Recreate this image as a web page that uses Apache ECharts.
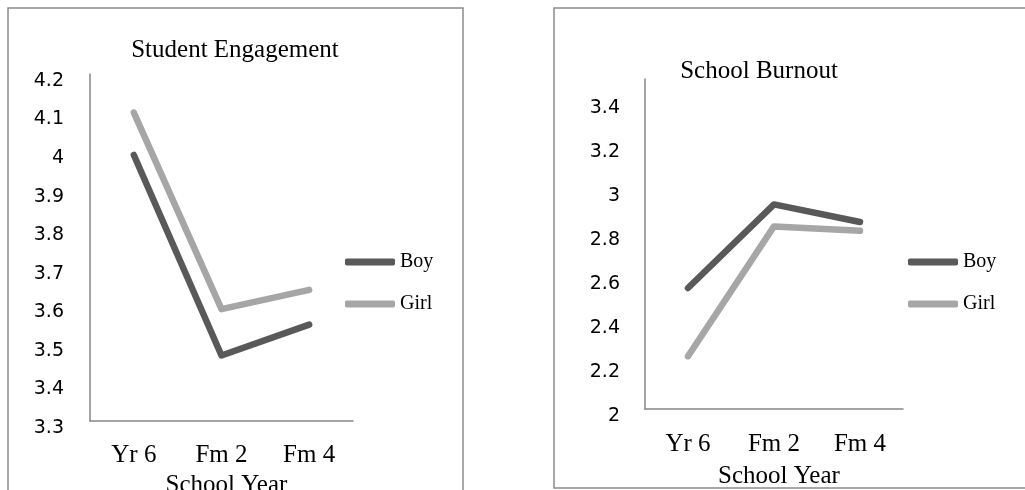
<!DOCTYPE html>
<html lang="en">
<head>
    <meta charset="UTF-8">
    <title>Student Engagement / School Burnout</title>
    <script src="https://cdn.jsdelivr.net/npm/echarts@6/dist/echarts.min.js"></script>
    <style>
        body { margin: 0; background: #fff; }
    </style>
</head>
<body>
<div id="myChart" style="width: 1025px;height: 490px;"></div>

<script>
    // data
    var categories = ['Yr 6', 'Fm 2', 'Fm 4'];
    var engagementBoy = [3.99, 3.47, 3.55];
    var engagementGirl = [4.10, 3.59, 3.64];
    var burnoutBoy = [2.55, 2.93, 2.85];
    var burnoutGirl = [2.24, 2.83, 2.81];
    var engagementTicks = [3.3, 4.2, 0.1];   // min, max, step
    var burnoutTicks = [2, 3.5, 0.2];

    var boyColor = '#595959';
    var girlColor = '#a6a6a6';
    var serif = '"Liberation Serif", "Times New Roman", serif';
    var sans = '"DejaVu Sans", sans-serif';

    var myChart = echarts.init(document.getElementById('myChart'));

    function xAxisOf(idx, margin, gap) {
        return {
            type: 'category',
            gridIndex: idx,
            data: categories,
            boundaryGap: true,
            axisLine: {lineStyle: {color: '#868686', width: 1.5}},
            axisTick: {show: false},
            axisLabel: {color: '#000', fontFamily: serif, fontSize: 25, margin: margin},
            name: 'School Year',
            nameLocation: 'middle',
            nameGap: gap,
            nameTextStyle: {color: '#000', fontFamily: serif, fontSize: 25, verticalAlign: 'top', padding: [0, 0, 0, 10]}
        };
    }

    function yAxisOf(idx, ticks, margin) {
        return {
            type: 'value',
            gridIndex: idx,
            min: ticks[0],
            max: ticks[1],
            interval: ticks[2],
            axisLine: {show: true, lineStyle: {color: '#868686', width: 1.5}},
            axisTick: {show: false},
            splitLine: {show: false},
            // labels sit a little below their tick in the original
            axisLabel: {color: '#000', fontFamily: sans, fontSize: 19, margin: margin,
                showMaxLabel: ticks === engagementTicks, verticalAlign: 'top', lineHeight: 14}
        };
    }

    function lineOf(name, idx, data, color) {
        return {
            name: name,
            type: 'line',
            xAxisIndex: idx,
            yAxisIndex: idx,
            data: data,
            symbol: 'none',
            color: color,
            itemStyle: {color: color},
            lineStyle: {color: color, width: 6.5, cap: 'round', join: 'round'},
            silent: true
        };
    }

    function legendOf(left) {
        return {
            orient: 'vertical',
            left: left,
            top: 247,
            itemWidth: 50,
            itemHeight: 7,
            itemGap: 22,
            itemTextGap: 3,
            icon: 'roundRect',
            data: ['Boy', 'Girl'],
            textStyle: {color: '#000', fontFamily: serif, fontSize: 20, lineHeight: 20}
        };
    }

    var option = {
        animation: false,
        title: [
            {text: 'Student Engagement', left: 230, top: 33, textAlign: 'center',
                textStyle: {color: '#000', fontFamily: serif, fontSize: 25, fontWeight: 'normal'}},
            {text: 'School Burnout', left: 754, top: 54, textAlign: 'center',
                textStyle: {color: '#000', fontFamily: serif, fontSize: 25, fontWeight: 'normal'}}
        ],
        legend: [legendOf(340), legendOf(903)],
        grid: [
            {left: 90, top: 74, width: 263, height: 347, outerBoundsMode: 'none'},
            {left: 645, top: 79, width: 258, height: 330, outerBoundsMode: 'none'}
        ],
        xAxis: [xAxisOf(0, 22, 45), xAxisOf(1, 23, 55)],
        yAxis: [yAxisOf(0, engagementTicks, 26), yAxisOf(1, burnoutTicks, 25)],
        series: [
            lineOf('Boy', 0, engagementBoy, boyColor),
            lineOf('Girl', 0, engagementGirl, girlColor),
            lineOf('Boy', 1, burnoutBoy, boyColor),
            lineOf('Girl', 1, burnoutGirl, girlColor)
        ],
        graphic: [
            // panel frames
            {type: 'rect', shape: {x: 8, y: 8, width: 455, height: 500},
                style: {fill: 'none', stroke: '#8c8c8c', lineWidth: 1.5}, silent: true},
            {type: 'rect', shape: {x: 554, y: 8, width: 500, height: 480},
                style: {fill: 'none', stroke: '#8c8c8c', lineWidth: 1.5}, silent: true}
        ]
    };

    myChart.setOption(option);
</script>
</body>
</html>
